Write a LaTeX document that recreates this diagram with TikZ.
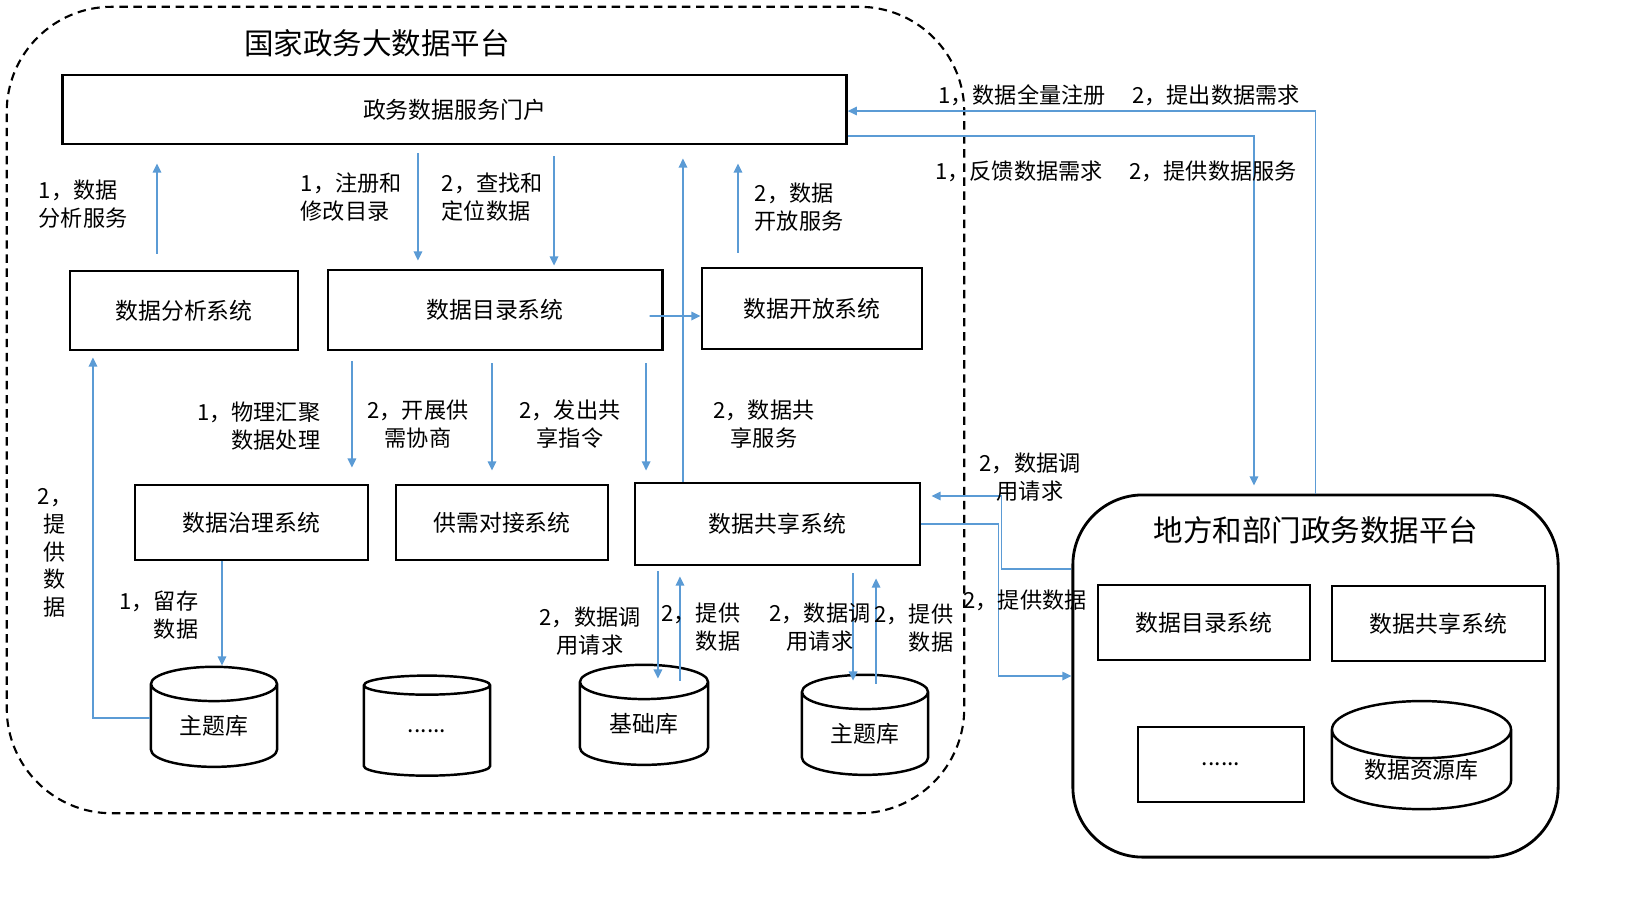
\documentclass[tikz,border=0pt]{standalone}
\usepackage{fontspec}
\setmainfont{Noto Sans CJK SC}
\usetikzlibrary{arrows.meta, shapes.geometric, calc}
\definecolor{lanxian}{RGB}{91,155,213}
\tikzset{
  xitong/.style={draw, line width=0.8pt, inner sep=0pt, font=\fontsize{6.5}{8}\selectfont},
  shujuku/.style={draw, line width=0.7pt, cylinder, shape border rotate=90, shape aspect=0.5, minimum width=1.26cm, minimum height=1cm, inner sep=0pt, font=\fontsize{6.5}{8}\selectfont},
  jiantou/.style={draw=lanxian, line width=0.5pt, -{Triangle[length=2.6pt,width=2.4pt]}},
  biaozhu/.style={inner sep=0pt, font=\fontsize{6.3}{7.9}\selectfont}
}

\begin{document}
\begin{tikzpicture}[x=0.01cm, y=-0.01cm]
        \useasboundingbox (0,0) rectangle (1651,917);
        \node[draw, dashed, dash pattern=on 2.4pt off 1.6pt, line width=0.6pt, rounded corners=1.05cm, minimum width=9.57cm, minimum height=8.06cm] (gjpt) at (485.5,410) {};
        \node[inner sep=0pt, font=\fontsize{8.4}{10}\selectfont] (gjbt) at (377,43) {国家政务大数据平台};
        \node[xitong, minimum width=7.83cm, minimum height=0.69cm] (portal) at (454.5,109.5) {政务数据服务门户};
        \node[xitong, minimum width=2.28cm, minimum height=0.79cm] (fxt) at (184,310.5) {数据分析系统};
        \node[xitong, minimum width=3.34cm, minimum height=0.80cm] (mlt) at (495,310) {数据目录系统};
        \node[xitong, minimum width=2.20cm, minimum height=0.81cm] (kft) at (812,308.5) {数据开放系统};
        \node[xitong, minimum width=2.33cm, minimum height=0.75cm] (zlt) at (251.5,522.5) {数据治理系统};
        \node[xitong, minimum width=2.12cm, minimum height=0.75cm] (gxt) at (502,522.5) {供需对接系统};
        \node[xitong, minimum width=2.85cm, minimum height=0.82cm] (gst) at (777.5,524) {数据共享系统};
        \node[shujuku] (ztk) at (214,726) {主题库};
        \node[shujuku] (qtk) at (427,731) {......};
        \node[shujuku, minimum width=1.28cm] (jck) at (644,724) {基础库};
        \node[shujuku] (ztkb) at (865,734) {主题库};

        \node[draw, line width=0.8pt, rounded corners=0.7cm, minimum width=4.85cm, minimum height=3.62cm] (dfpt) at (1315.5,676) {};
        \node[inner sep=0pt, font=\fontsize{8.4}{10}\selectfont] (dfbt) at (1316,530) {地方和部门政务数据平台};
        \node[xitong, minimum width=2.12cm, minimum height=0.75cm] (dmlt) at (1204,622.5) {数据目录系统};
        \node[xitong, minimum width=2.13cm, minimum height=0.75cm] (dgst) at (1438.5,623.5) {数据共享系统};
        \node[xitong, minimum width=1.66cm, minimum height=0.75cm] (dqt) at (1221,764.5) {......};
        \node[shujuku, minimum width=1.79cm] (zyk) at (1421.5,770) {数据资源库};

        \draw[jiantou] ([xshift=-0.27cm,yshift=0.16cm]fxt.north) -- ([xshift=-0.27cm,yshift=-0.18cm]fxt.north |- portal.south);
        \draw[jiantou] ([xshift=-0.77cm,yshift=-0.08cm]mlt.north |- portal.south) -- ([xshift=-0.77cm,yshift=0.08cm]mlt.north);
        \draw[jiantou] ([xshift=0.59cm,yshift=-0.11cm]mlt.north |- portal.south) -- ([xshift=0.59cm,yshift=0.03cm]mlt.north);
        \draw[jiantou] ([xshift=-0.945cm]gst.north) -- ([xshift=-0.945cm,yshift=-0.13cm]gst.north |- portal.south);
        \draw[jiantou] ([xshift=-0.74cm,yshift=0.14cm]kft.north) -- ([xshift=-0.74cm,yshift=-0.18cm]kft.north |- portal.south);
        \draw[jiantou] ([xshift=-0.14cm,yshift=-0.06cm]mlt.east) -- ([yshift=-0.075cm]kft.west);
        \draw[jiantou] ([xshift=-1.43cm,yshift=-0.10cm]mlt.south) -- ([xshift=-1.43cm,yshift=0.16cm]mlt.south |- zlt.north);
        \draw[jiantou] ([xshift=-0.03cm,yshift=-0.12cm]mlt.south) -- ([xshift=-0.03cm,yshift=0.13cm]mlt.south |- gxt.north);
        \draw[jiantou] ([xshift=1.51cm,yshift=-0.12cm]mlt.south) -- ([xshift=1.51cm,yshift=0.11cm]mlt.south |- gst.north);
        \draw[jiantou] ([yshift=0.08cm]ztk.west) -| ([xshift=-0.91cm,yshift=-0.06cm]fxt.south);
        \draw[jiantou] ([xshift=-0.295cm]zlt.south) -- ([xshift=-0.295cm]zlt.south |- ztk.north);
        \draw[jiantou] ([xshift=-1.195cm,yshift=-0.05cm]gst.south) -- ([xshift=-1.195cm,yshift=-0.15cm]gst.south |- jck.north);
        \draw[jiantou] ([xshift=-0.975cm,yshift=-0.17cm]gst.south |- jck.north) -- ([xshift=-0.975cm,yshift=-0.10cm]gst.south);
        \draw[jiantou] ([xshift=0.755cm,yshift=-0.07cm]gst.south) -- ([xshift=0.755cm,yshift=-0.07cm]gst.south |- ztkb.north);
        \draw[jiantou] ([xshift=0.985cm,yshift=-0.10cm]gst.south |- ztkb.north) -- ([xshift=0.985cm,yshift=-0.12cm]gst.south);
        \draw[jiantou] (dfpt.north) |- ([yshift=-0.015cm]portal.east);
        \draw[jiantou] ([yshift=-0.265cm]portal.east) -| ([xshift=-0.615cm,yshift=0.08cm]dfpt.north);
        \draw[jiantou] ([yshift=1.07cm]dfpt.west) -- ++(-0.70cm,0) |- ([xshift=0.10cm,yshift=0.28cm]gst.east);
        \draw[jiantou] (gst.east) -- ++(0.77cm,0) |- (dfpt.west);

        \node[biaozhu, anchor=west, align=left] (bz1) at (38,204) {1，数据\\分析服务};
        \node[biaozhu, anchor=west, align=left] (bz2) at (300,197) {1，注册和\\修改目录};
        \node[biaozhu, anchor=west, align=left] (bz3) at (441,197) {2，查找和\\定位数据};
        \node[biaozhu, anchor=west, align=left] (bz4) at (754,207) {2，数据\\开放服务};
        \node[biaozhu, anchor=east, align=right] (bz5) at (321,426) {1，物理汇聚\\数据处理};
        \node[biaozhu, align=center] (bz6) at (418,424) {2，开展供\\需协商};
        \node[biaozhu, align=center] (bz7) at (570,424) {2，发出共\\享指令};
        \node[biaozhu, align=center] (bz8) at (764,424) {2，数据共\\享服务};
        \node[biaozhu, align=center] (bz9) at (55,553) {2，\\提\\供\\数\\据};
        \node[biaozhu, anchor=east, align=right] (bz10) at (199,615) {1，留存\\数据};
        \node[biaozhu, align=center] (bz11) at (590,631) {2，数据调\\用请求};
        \node[biaozhu, anchor=east, align=right] (bz12) at (741,627) {2，提供\\数据};
        \node[biaozhu, align=center] (bz13) at (820,627) {2，数据调\\用请求};
        \node[biaozhu, anchor=east, align=right] (bz14) at (954,628) {2，提供\\数据};
        \node[biaozhu, align=center] (bz15) at (1030,477) {2，数据调\\用请求};
        \node[biaozhu] (bz16) at (1025,600) {2，提供数据};
        \node[biaozhu] (bz17) at (1119,95) {1，数据全量注册\hspace{1.2em}2，提出数据需求};
        \node[biaozhu] (bz18) at (1116,171) {1，反馈数据需求\hspace{1.2em}2，提供数据服务};
\end{tikzpicture}
\end{document}
